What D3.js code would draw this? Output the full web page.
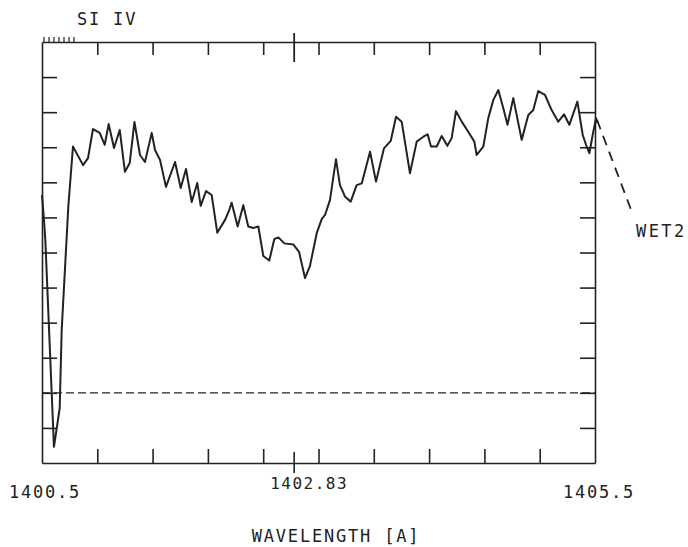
<!DOCTYPE html>
<html>
<head>
<meta charset="utf-8">
<script src="https://cdn.jsdelivr.net/npm/d3@7/dist/d3.min.js"></script>
<style>
  html, body { margin: 0; padding: 0; background: #ffffff; }
  svg text { font-family: "DejaVu Sans Mono", "Liberation Mono", monospace; fill: #222222; }
</style>
</head>
<body>
<svg id="chart" width="688" height="547"></svg>
<script>
// ---------- data ----------
const wavelength = [
  1400.500, 1400.518, 1400.530, 1400.608, 1400.660, 1400.678, 1400.738, 1400.780,
  1400.871, 1400.916, 1400.961, 1401.022, 1401.067, 1401.103, 1401.151, 1401.203,
  1401.250, 1401.293, 1401.336, 1401.386, 1401.431, 1401.492, 1401.522, 1401.567,
  1401.621, 1401.703, 1401.754, 1401.802, 1401.854, 1401.904, 1401.935, 1401.983,
  1402.034, 1402.085, 1402.155, 1402.193, 1402.215, 1402.269, 1402.320, 1402.365,
  1402.410, 1402.456, 1402.501, 1402.555, 1402.600, 1402.637, 1402.691, 1402.772,
  1402.824, 1402.878, 1402.923, 1402.984, 1403.029, 1403.059, 1403.104, 1403.158,
  1403.194, 1403.240, 1403.291, 1403.345, 1403.391, 1403.466, 1403.520, 1403.592,
  1403.653, 1403.701, 1403.752, 1403.827, 1403.888, 1403.948, 1403.987, 1404.017,
  1404.069, 1404.114, 1404.165, 1404.204, 1404.243, 1404.295, 1404.354, 1404.409,
  1404.430, 1404.490, 1404.535, 1404.581, 1404.626, 1404.671, 1404.709, 1404.761,
  1404.837, 1404.897, 1404.942, 1404.987, 1405.048, 1405.108, 1405.168, 1405.220,
  1405.268, 1405.341, 1405.389, 1405.419, 1405.449, 1405.479, 1405.509, 1405.522
];
const flux = [
  5.64, 4.93, 4.36, -1.54, -0.44, 1.79, 5.31, 7.02,
  6.49, 6.69, 7.52, 7.41, 7.07, 7.66, 6.98, 7.49,
  6.30, 6.55, 7.72, 6.78, 6.58, 7.41, 6.92, 6.64,
  5.87, 6.58, 5.84, 6.38, 5.44, 5.98, 5.33, 5.75,
  5.64, 4.56, 4.93, 5.21, 5.42, 4.74, 5.35, 4.74,
  4.70, 4.74, 3.90, 3.77, 4.38, 4.43, 4.26, 4.23,
  4.02, 3.27, 3.62, 4.55, 4.95, 5.07, 5.50, 6.66,
  5.92, 5.59, 5.45, 5.92, 5.97, 6.87, 6.02, 6.97,
  7.18, 7.87, 7.73, 6.26, 7.16, 7.30, 7.37, 7.02,
  7.02, 7.32, 7.04, 7.26, 8.03, 7.73, 7.44, 7.16,
  6.78, 7.02, 7.83, 8.35, 8.63, 8.11, 7.64, 8.40,
  7.21, 7.92, 8.06, 8.60, 8.49, 8.06, 7.73, 7.94,
  7.64, 8.30, 7.35, 7.07, 6.83, 7.35, 7.83, 7.69
];
// dashed leader from spectrum end to the "WET2" label
const leaderWavelength = [1405.518, 1405.844];
const leaderFlux = [7.78, 5.07];

const xDomain = [1400.5, 1405.5];
const yDomain = [-2, 10];
const xTickValues = [1401.0, 1401.5, 1402.0, 1402.5, 1403.0, 1403.5, 1404.0, 1404.5, 1405.0];
const yTickValues = [-1, 0, 1, 2, 3, 4, 5, 6, 7, 8, 9];
const xEndLabels = ["1400.5", "1405.5"];
const markerWavelength = 1402.78;   // plotted position of the marker tick
const markerLabel = "1402.83";
const zeroLevel = 0;
const titleText = "SI IV";
const seriesLabel = "WET2";
const xAxisTitle = "WAVELENGTH [A]";

// ---------- layout ----------
const svg = d3.select("#chart");
const mL = 42, mR = 595, mT = 42, mB = 463;
const x = d3.scaleLinear().domain(xDomain).range([mL, mR]);
const y = d3.scaleLinear().domain(yDomain).range([mB, mT]);
const ink = "#222222";

function styleAxis(g) {
  g.selectAll("path.domain").attr("stroke", ink).attr("stroke-width", 1.6);
  g.selectAll(".tick line").attr("stroke", ink).attr("stroke-width", 1.6);
  g.selectAll(".tick text").remove();
}

svg.append("g").attr("transform", `translate(0,${mB})`)
  .call(d3.axisBottom(x).tickValues(xTickValues).tickSizeInner(-14).tickSizeOuter(0).tickFormat(""))
  .call(styleAxis);
svg.append("g").attr("transform", `translate(0,${mT})`)
  .call(d3.axisTop(x).tickValues(xTickValues).tickSizeInner(-13).tickSizeOuter(0).tickFormat(""))
  .call(styleAxis);
svg.append("g").attr("transform", `translate(${mL},0)`)
  .call(d3.axisLeft(y).tickValues(yTickValues).tickSizeInner(-15).tickSizeOuter(0).tickFormat(""))
  .call(styleAxis);
svg.append("g").attr("transform", `translate(${mR},0)`)
  .call(d3.axisRight(y).tickValues(yTickValues).tickSizeInner(-15).tickSizeOuter(0).tickFormat(""))
  .call(styleAxis);

// small hatch marks at top-left corner
const hatch = d3.range(0, 7);
svg.append("g").selectAll("line").data(hatch).join("line")
  .attr("x1", d => mL + 2 + d * 5).attr("x2", d => mL + 2 + d * 5)
  .attr("y1", mT - 5).attr("y2", mT)
  .attr("stroke", ink).attr("stroke-width", 1.2);

// marker ticks (top and bottom)
svg.append("line")
  .attr("x1", x(markerWavelength)).attr("x2", x(markerWavelength))
  .attr("y1", mT - 9).attr("y2", mT + 20)
  .attr("stroke", ink).attr("stroke-width", 1.8);
svg.append("line")
  .attr("x1", x(markerWavelength)).attr("x2", x(markerWavelength))
  .attr("y1", mB - 11).attr("y2", mB + 10)
  .attr("stroke", ink).attr("stroke-width", 1.6);

// zero level dashed line
svg.append("line")
  .attr("x1", mL).attr("x2", mR)
  .attr("y1", y(zeroLevel)).attr("y2", y(zeroLevel))
  .attr("stroke", ink).attr("stroke-width", 1.4)
  .attr("stroke-dasharray", "8,4");

// spectrum
const pts = wavelength.map((w, i) => [w, flux[i]]);
const line = d3.line().x(d => x(d[0])).y(d => y(d[1]));
svg.append("path").datum(pts)
  .attr("d", line)
  .attr("fill", "none").attr("stroke", ink)
  .attr("stroke-width", 2).attr("stroke-linejoin", "round");

// leader dashed line
svg.append("path").datum(leaderWavelength.map((w, i) => [w, leaderFlux[i]]))
  .attr("d", line)
  .attr("fill", "none").attr("stroke", ink)
  .attr("stroke-width", 1.8).attr("stroke-dasharray", "10,7");

// texts
const txtStyle = sel => sel.attr("font-size", 17).style("letter-spacing", "1.8px");

svg.append("text").text(titleText)
  .attr("x", 77).attr("y", 25).call(txtStyle);

svg.append("text").text(xEndLabels[0])
  .attr("x", x(xDomain[0]) + 3).attr("y", 498).attr("text-anchor", "middle").call(txtStyle);
svg.append("text").text(xEndLabels[1])
  .attr("x", x(xDomain[1]) + 4).attr("y", 498).attr("text-anchor", "middle").call(txtStyle);
svg.append("text").text(markerLabel)
  .attr("x", x(markerWavelength) + 15).attr("y", 489).attr("text-anchor", "middle")
  .attr("font-size", 16).style("letter-spacing", "1.5px");

svg.append("text").text(seriesLabel)
  .attr("x", 636).attr("y", 237).attr("font-size", 17).style("letter-spacing", "2.4px");

svg.append("text").text(xAxisTitle)
  .attr("x", 336).attr("y", 542).attr("text-anchor", "middle").call(txtStyle);
</script>
</body>
</html>
